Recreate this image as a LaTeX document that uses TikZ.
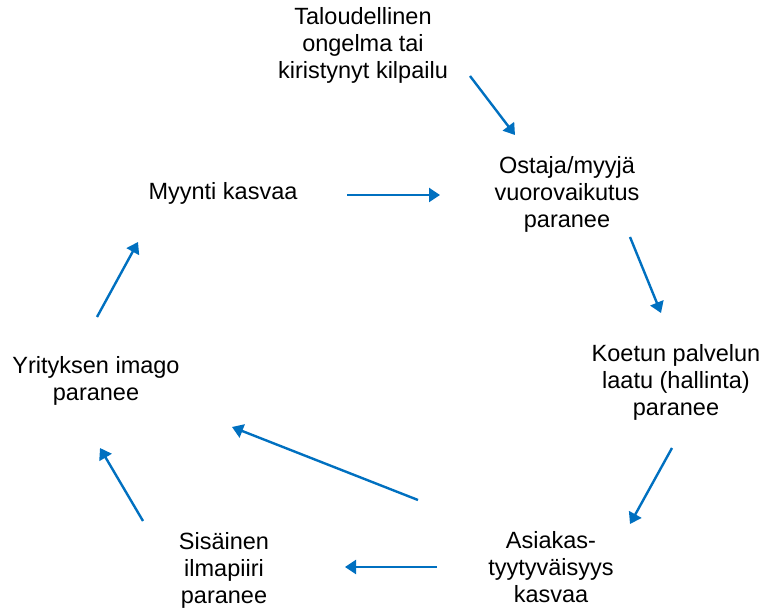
\documentclass[tikz,border=0pt]{standalone}
\usepackage{fontspec}
\setmainfont{Liberation Sans}
\usetikzlibrary{arrows.meta}
\definecolor{arrowblue}{HTML}{0070C0}

\begin{document}
\begin{tikzpicture}[x=1pt,y=-1pt,
    txt/.style={align=center,font=\fontsize{23.5}{27}\selectfont,inner sep=0pt},
    arr/.style={-{Triangle[length=11pt,width=14pt]},arrowblue,line width=2.4pt}]
\useasboundingbox (0,0) rectangle (761,609);
\node [txt] (tal) at (363,45) {Taloudellinen\\ongelma tai\\kiristynyt kilpailu};
\node [txt] (ost) at (567,194) {Ostaja/myyjä\\vuorovaikutus\\paranee};
\node [txt] (myy) at (223,193) {Myynti kasvaa};
\node [txt] (koe) at (676,382) {Koetun palvelun\\laatu (hallinta)\\paranee};
\node [txt] (yri) at (96,381) {Yrityksen imago\\paranee};
\node [txt] (asi) at (551,567) {Asiakas-\\tyytyväisyys\\kasvaa};
\node [txt] (sis) at (224,570) {Sisäinen\\ilmapiiri\\paranee};
% arrow ends
\coordinate (talA) at (470,76);  \coordinate (ostA) at (515,135);
\coordinate (myyA) at (347,195); \coordinate (ostB) at (440,195);
\coordinate (ostC) at (630,237); \coordinate (koeA) at (661,313);
\coordinate (koeB) at (672,448); \coordinate (asiA) at (630,524);
\coordinate (asiB) at (418,500); \coordinate (yriA) at (232,427);
\coordinate (asiC) at (437,567); \coordinate (sisA) at (345,567);
\coordinate (sisB) at (143,521); \coordinate (yriB) at (100,448);
\coordinate (yriC) at (97,317);  \coordinate (myyB) at (138,242);
\draw [arr] (talA) -- (ostA);
\draw [arr] (myyA) -- (ostB);
\draw [arr] (ostC) -- (koeA);
\draw [arr] (koeB) -- (asiA);
\draw [arr] (asiB) -- (yriA);
\draw [arr] (asiC) -- (sisA);
\draw [arr] (sisB) -- (yriB);
\draw [arr] (yriC) -- (myyB);
\end{tikzpicture}
\end{document}
